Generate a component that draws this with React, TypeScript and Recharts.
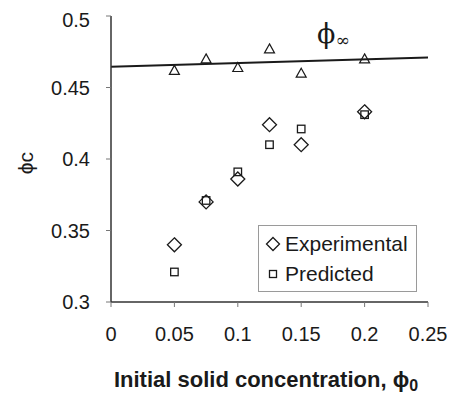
import React from 'react';
import { ComposedChart, Scatter, Line, XAxis, YAxis, Label } from 'recharts';

const xTicks = [0, 0.05, 0.1, 0.15, 0.2, 0.25];
const yTicks = [0.3, 0.35, 0.4, 0.45, 0.5];
const experimental = [
  { x: 0.05, y: 0.34 },
  { x: 0.075, y: 0.37 },
  { x: 0.1, y: 0.386 },
  { x: 0.125, y: 0.424 },
  { x: 0.15, y: 0.41 },
  { x: 0.2, y: 0.433 },
];
const predicted = [
  { x: 0.05, y: 0.321 },
  { x: 0.075, y: 0.371 },
  { x: 0.1, y: 0.391 },
  { x: 0.125, y: 0.41 },
  { x: 0.15, y: 0.421 },
  { x: 0.2, y: 0.431 },
];
const phiInf = [
  { x: 0.05, y: 0.462 },
  { x: 0.075, y: 0.47 },
  { x: 0.1, y: 0.464 },
  { x: 0.125, y: 0.477 },
  { x: 0.15, y: 0.46 },
  { x: 0.2, y: 0.47 },
];
const fitLine = [
  { x: 0, y: 0.4645 },
  { x: 0.25, y: 0.471 },
];
const legendNames = ['Experimental', 'Predicted'];

const INK = '#1a1a1a';
const FONT = '"Liberation Sans", Arial, sans-serif';

const Diamond = (p: any) => {
  const { cx, cy } = p;
  if (cx == null || cy == null) return <g />;
  const r = 7;
  return (
    <path
      d={`M${cx},${cy - r}L${cx + r},${cy}L${cx},${cy + r}L${cx - r},${cy}Z`}
      fill="none"
      stroke={INK}
      strokeWidth={1.3}
    />
  );
};

const Square = (p: any) => {
  const { cx, cy } = p;
  if (cx == null || cy == null) return <g />;
  const s = 7.5;
  return <rect x={cx - s / 2} y={cy - s / 2} width={s} height={s} fill="none" stroke={INK} strokeWidth={1.3} />;
};

const Triangle = (p: any) => {
  const { cx, cy } = p;
  if (cx == null || cy == null) return <g />;
  return (
    <path
      d={`M${cx},${cy - 5}L${cx + 5},${cy + 4}L${cx - 5},${cy + 4}Z`}
      fill="none"
      stroke={INK}
      strokeWidth={1.2}
    />
  );
};

const XTitle = () => (
  <text x={258} y={379} textAnchor="middle" fontFamily={FONT} fontSize={22} fontWeight="bold" fill={INK}>
    Initial solid concentration, <tspan>ϕ</tspan>
    <tspan fontSize={16} dy={4}>0</tspan>
  </text>
);

const YTitle = () => (
  <text
    x={17}
    y={155}
    textAnchor="middle"
    dominantBaseline="central"
    transform="rotate(-90 17 155)"
    fontFamily={FONT}
    fontSize={21}
    fill={INK}
  >
    ϕc
  </text>
);

export default function App() {
  return (
    <div style={{ position: 'relative', width: 447, height: 386 }}>
      <ComposedChart width={447} height={386} margin={{ top: 8, right: 27, bottom: 0, left: 0 }}>
        <XAxis
          xAxisId="b"
          type="number"
          dataKey="x"
          domain={[0, 0.25]}
          ticks={xTicks}
          tickFormatter={(v: number) => String(v)}
          height={92}
          tickSize={5}
          tickMargin={20}
          tick={{ fill: INK, fontFamily: FONT, fontSize: 20 }}
          axisLine={{ stroke: '#333', strokeWidth: 1.5 }}
          tickLine={{ stroke: '#777' }}
        >
          <Label content={<XTitle />} />
        </XAxis>
        <XAxis
          xAxisId="t"
          orientation="top"
          type="number"
          dataKey="x"
          domain={[0, 0.25]}
          height={0}
          tick={false}
          tickLine={false}
          axisLine={{ stroke: '#999', strokeWidth: 1.5 }}
        />
        <YAxis
          yAxisId="l"
          type="number"
          domain={[0.3, 0.5]}
          ticks={yTicks}
          tickFormatter={(v: number) => String(v)}
          width={103}
          tickSize={5}
          tickMargin={16}
          tick={{ fill: INK, fontFamily: FONT, fontSize: 20 }}
          axisLine={{ stroke: '#333', strokeWidth: 1.5 }}
          tickLine={{ stroke: '#777' }}
        >
          <Label content={<YTitle />} />
        </YAxis>
        <YAxis
          yAxisId="r"
          orientation="right"
          type="number"
          domain={[0.3, 0.5]}
          width={0}
          tick={false}
          tickLine={false}
          axisLine={{ stroke: '#999', strokeWidth: 1.5 }}
        />
        <Line
          xAxisId="b"
          yAxisId="l"
          data={fitLine}
          dataKey="y"
          stroke={INK}
          strokeWidth={2}
          dot={false}
          activeDot={false}
          legendType="none"
          isAnimationActive={false}
        />
        <Scatter xAxisId="b" yAxisId="l" name="ϕ∞" data={phiInf} dataKey="y" shape={Triangle} isAnimationActive={false} />
        <Scatter xAxisId="b" yAxisId="l" name={legendNames[0]} data={experimental} dataKey="y" shape={Diamond} isAnimationActive={false} />
        <Scatter xAxisId="b" yAxisId="l" name={legendNames[1]} data={predicted} dataKey="y" shape={Square} isAnimationActive={false} />
      </ComposedChart>
      <div
        style={{
          position: 'absolute',
          left: 250,
          top: 217,
          border: '1px solid #9a9a9a',
          width: 159,
          height: 67,
          boxSizing: 'border-box',
          fontFamily: FONT,
          fontSize: 21,
          color: INK,
          padding: '3px 0 0 5px',
          background: '#fff',
          whiteSpace: 'nowrap',
        }}
      >
        <div style={{ display: 'flex', alignItems: 'center', height: 30 }}>
          <svg width={18} height={18} style={{ marginRight: 3 }}>
            <path d="M9,2.5L15.5,9L9,15.5L2.5,9Z" fill="none" stroke={INK} strokeWidth={1.3} />
          </svg>
          {legendNames[0]}
        </div>
        <div style={{ display: 'flex', alignItems: 'center', height: 30 }}>
          <svg width={18} height={18} style={{ marginRight: 3 }}>
            <rect x={5.5} y={5.5} width={7} height={7} fill="none" stroke={INK} strokeWidth={1.3} />
          </svg>
          {legendNames[1]}
        </div>
      </div>
      <div
        style={{
          position: 'absolute',
          left: 309,
          top: 12,
          fontFamily: '"DejaVu Serif", "Liberation Serif", serif',
          color: INK,
          lineHeight: 1,
          whiteSpace: 'nowrap',
          pointerEvents: 'none',
        }}
      >
        <span style={{ fontSize: 27 }}>ϕ</span>
        <span style={{ fontSize: 17, position: 'relative', top: 3 }}>∞</span>
      </div>
    </div>
  );
}
